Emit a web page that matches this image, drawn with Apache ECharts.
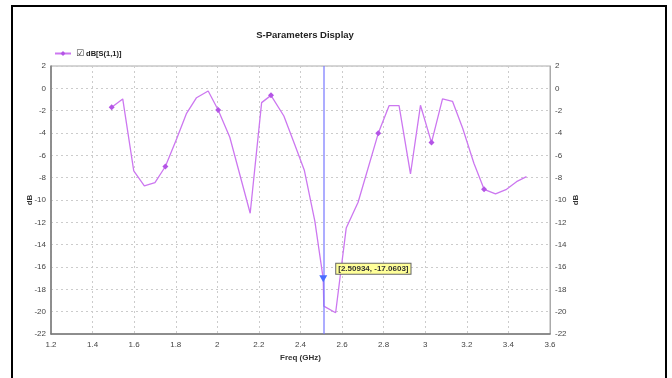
<!DOCTYPE html>
<html><head><meta charset="utf-8">
<script src="https://cdn.jsdelivr.net/npm/echarts@6/dist/echarts.min.js"></script>
<style>html,body{margin:0;padding:0;background:#fff}#c{width:672px;height:378px}</style>
</head><body><div id="c"></div>
<script>
const freqGHz = [1.492,1.545,1.598,1.649,1.700,1.750,1.804,1.852,1.900,1.956,2.004,2.060,2.158,2.213,2.258,2.320,2.373,2.418,2.469,2.50934,2.512,2.569,2.620,2.677,2.774,2.826,2.874,2.929,2.977,3.030,3.083,3.131,3.180,3.234,3.283,3.338,3.391,3.439,3.487];
const s11dB = [-1.7,-0.95,-7.4,-8.74,-8.45,-7.0,-4.53,-2.24,-0.84,-0.24,-1.94,-4.38,-11.19,-1.28,-0.63,-2.48,-5.07,-7.31,-11.9,-17.06,-19.5,-20.1,-12.5,-10.2,-4.03,-1.55,-1.55,-7.67,-1.52,-4.86,-0.95,-1.16,-3.58,-6.71,-9.04,-9.46,-9.04,-8.36,-7.91];
const markerIdx = [0,5,10,14,24,29,34];
const markerFreq = 2.50934;
const markerVal = -17.0603;
const xTicks = {min:1.2, max:3.6, step:0.2};
const yTicks = {min:-22, max:2, step:2};
const seriesName = 'dB[S(1,1)]';

const FONT = 'Liberation Sans';
const data = freqGHz.map((f,i)=>{
  const on = markerIdx.includes(i);
  return on ? {value:[f, s11dB[i]]} : {value:[f, s11dB[i]], symbol:'none'};
});
const chart = echarts.init(document.getElementById('c'));
const labelStyle = {fontFamily:FONT, fontSize:8, color:'#444'};
const yAxisBase = {
  type:'value', min:yTicks.min, max:yTicks.max, interval:yTicks.step,
  name:'dB', nameLocation:'middle', nameRotate:90, nameMoveOverlap:false,
  nameTextStyle:{fontFamily:FONT, fontSize:8, fontWeight:'bold', color:'#333'},
  axisLabel:Object.assign({margin:5}, labelStyle),
  axisTick:{show:false},
};
chart.setOption({
  animation:false,
  title:{text:'S-Parameters Display', left:300, top:25, textAlign:'center',
    textStyle:{fontFamily:FONT, fontSize:9.5, fontWeight:'bold', color:'#222'}},
  legend:{left:49, top:44, itemWidth:16, itemHeight:6, itemGap:4,
    data:[seriesName],
    formatter: n => '{b|\u2611}{t|' + n + '}',
    textStyle:{rich:{
      b:{fontFamily:'DejaVu Sans', fontSize:9, color:'#333', padding:[0,2,0,0]},
      t:{fontFamily:FONT, fontSize:7.5, fontWeight:'bold', color:'#222'}}}},
  grid:{left:51, right:122, top:66, bottom:44, show:true, borderColor:'#aaa', borderWidth:1},
  xAxis:{type:'value', min:xTicks.min, max:xTicks.max, interval:xTicks.step,
    name:'Freq (GHz)', nameLocation:'middle', nameGap:20, nameMoveOverlap:false,
    nameTextStyle:{fontFamily:FONT, fontSize:8, fontWeight:'bold', color:'#333'},
    axisLine:{onZero:false, lineStyle:{color:'#777', width:1.5}}, axisTick:{show:false},
    axisLabel:Object.assign({margin:7}, labelStyle),
    splitLine:{lineStyle:{color:'#ccc', type:[2,3]}}},
  yAxis:[
    Object.assign({position:'left', nameGap:17,
      axisLine:{show:true, onZero:false, lineStyle:{color:'#777', width:1.5}},
      splitLine:{lineStyle:{color:'#ccc', type:[2,3]}}}, yAxisBase),
    Object.assign({position:'right', nameGap:22,
      axisLine:{show:true, onZero:false, lineStyle:{color:'#aaa', width:1}},
      splitLine:{show:false}}, yAxisBase)
  ],
  series:[{
    name:seriesName, type:'line', data:data, yAxisIndex:0,
    symbol:'diamond', symbolSize:6, showAllSymbol:true,
    lineStyle:{color:'#cc77f0', width:1.3},
    itemStyle:{color:'#b455e6'},
    markLine:{silent:true, symbol:'none', label:{show:false},
      lineStyle:{color:'#7777ff', width:1.5, type:'solid', opacity:0.8},
      data:[{xAxis:markerFreq}]},
    markPoint:{symbol:'triangle', symbolRotate:180, symbolSize:[8,7],
      itemStyle:{color:'#4a6cff'},
      label:{show:true, position:'right', offset:[4,-10],
        formatter:'[' + markerFreq + ', ' + markerVal + ']',
        fontFamily:FONT, fontSize:8, fontWeight:'bold', color:'#333',
        backgroundColor:'#ffff99', borderColor:'#666', borderWidth:1, padding:[1,2]},
      data:[{coord:[markerFreq, markerVal]}]}
  }],
  graphic:[{type:'rect', shape:{x:12, y:6, width:654, height:380},
    style:{fill:null, stroke:'#000', lineWidth:2}, silent:true}]
});
</script></body></html>
